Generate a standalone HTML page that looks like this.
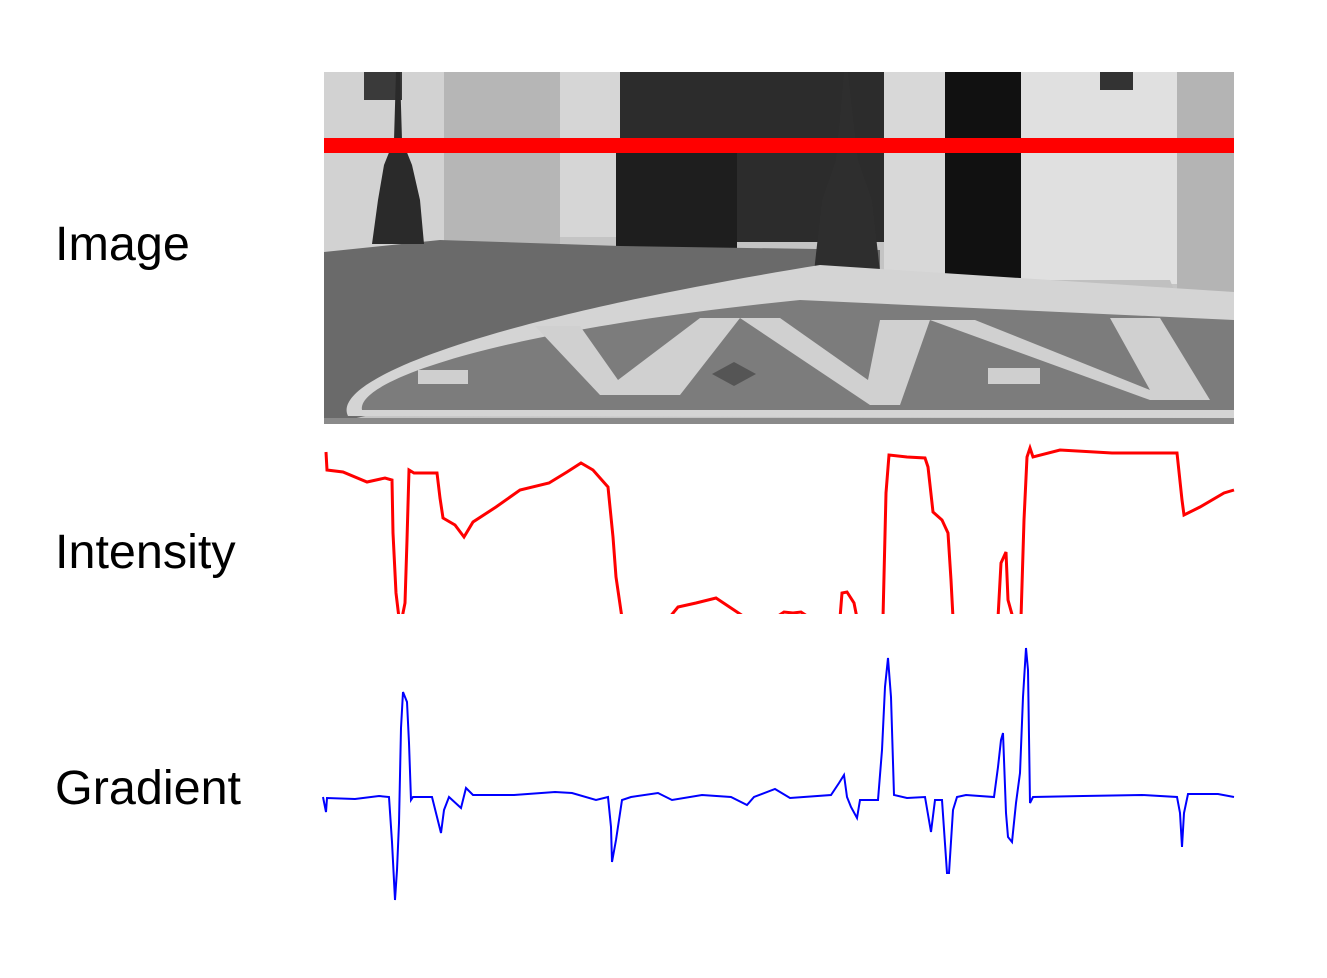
<!DOCTYPE html>
<html><head><meta charset="utf-8"><style>
body{margin:0;background:#fff;width:1327px;height:978px;overflow:hidden;font-family:"Liberation Sans",Arial,sans-serif}
.lbl{position:absolute;left:55px;font-size:48.5px;color:#000}
svg{position:absolute;left:0;top:0}
</style></head><body>
<div class="lbl" style="top:216px">Image</div>
<div class="lbl" style="top:524px">Intensity</div>
<div class="lbl" style="top:760px">Gradient</div>
<svg width="1327" height="978" id="s">
<defs><clipPath id="pc"><rect x="324" y="72" width="910" height="352"/></clipPath>
<clipPath id="ic"><rect x="320" y="440" width="920" height="174"/></clipPath></defs>
<g clip-path="url(#pc)">
<rect x="324" y="72" width="910" height="352" fill="#c4c4c4"/>
<rect x="324" y="72" width="120" height="180" fill="#d2d2d2"/>
<rect x="444" y="72" width="116" height="175" fill="#b6b6b6"/>
<rect x="364" y="72" width="38" height="28" fill="#3a3a3a"/>
<rect x="560" y="72" width="60" height="165" fill="#d6d6d6"/>
<rect x="620" y="72" width="264" height="170" fill="#2c2c2c"/>
<rect x="616" y="150" width="121" height="100" fill="#1e1e1e"/>
<rect x="884" y="72" width="61" height="220" fill="#d8d8d8"/>
<rect x="945" y="72" width="76" height="206" fill="#111"/>
<rect x="1021" y="72" width="156" height="212" fill="#e0e0e0"/>
<rect x="1177" y="72" width="57" height="220" fill="#b4b4b4"/>
<rect x="1100" y="72" width="33" height="18" fill="#333"/>
<polygon points="324,252 440,240 620,246 880,250 880,300 330,424 324,424" fill="#6a6a6a"/>
<polygon points="372,244 424,244 420,200 412,165 402,140 400,72 396,72 394,140 384,165 378,200" fill="#2a2a2a"/>
<polygon points="814,272 880,272 872,200 858,160 848,72 844,72 836,160 822,200" fill="#2e2e2e"/>
<polygon points="880,280 1170,280 1178,300 900,308" fill="#c0c0c0"/>
<path d="M348,416 C330,380 480,320 820,265 L1234,292 L1234,418 Z" fill="#d4d4d4"/>
<path d="M362,410 C356,380 500,330 800,300 L1234,320 L1234,410 Z" fill="#7c7c7c"/>
<polygon points="535,326 580,326 618,380 700,318 740,318 680,395 600,395" fill="#d0d0d0"/>
<polygon points="740,318 780,318 868,380 880,320 930,320 900,405 870,405" fill="#d0d0d0"/>
<polygon points="930,320 975,320 1150,390 1110,318 1160,318 1210,400 1150,400" fill="#d0d0d0"/>
<rect x="418" y="370" width="50" height="14" fill="#cfcfcf"/>
<rect x="988" y="368" width="52" height="16" fill="#cfcfcf"/>
<polygon points="734,362 756,374 734,386 712,374" fill="#555"/>
<rect x="324" y="418" width="910" height="6" fill="#8a8a8a"/>
<rect x="324" y="138" width="910" height="15" fill="#ff0000"/>
</g>
<g clip-path="url(#ic)"><path id="ip" fill="none" stroke="#ff0000" stroke-width="3"/></g>
<path id="gp" fill="none" stroke="#0000ff" stroke-width="2"/>
</svg>
<script>
// intensity: column positions along the scanline (px) and brightness values (null = break in line)
const intensityCols=[2,3,19,43,61,68,69,72,75,78,81,83,85,90,113,116,119,131,140,149,172,196,225,243,257,269,284,289,292,298,null,
345,354,372,392,407,422,null,
451,460,469,477,486,null,
516,518,523,530,533,null,
559,562,565,583,601,604,609,618,624,627,629,null,
674,677,682,684,689,null,
697,700,703,706,709,736,788,853,858,860,876,900,910];
const intensityVals=[161,143,141,131,135,133,80,20,-5,-5,10,73,143,140,140,115,95,88,76,91,106,123,130,141,150,143,126,76,36,-5,null,
-5,6,10,15,5,-5,null,
-5,1,0,1,-5,null,
-5,20,21,10,-5,null,
-5,120,158,156,155,146,101,93,80,33,-5,null,
-5,50,61,13,-5,null,
-5,93,156,165,156,163,160,160,113,98,106,120,123];
// gradient: column positions and gradient values (up positive)
const gradCols=[-1,2,3,31,55,65,68,71,73,75,77,79,83,85,87,89,108,113,117,120,125,137,142,149,190,231,248,272,284,287,288,292,298,307,334,348,378,407,423,430,451,466,507,515,520,523,527,533,536,554,558,561,564,567,570,583,601,607,611,618,623,625,629,633,642,670,674,677,679,682,684,688,692,696,699,702,704,706,709,759,818,853,856,858,860,864,894,910];
const gradVals=[0,-15,-1,-2,1,0,-45,-103,-73,-26,69,105,95,54,-3,0,0,-20,-36,-13,0,-11,9,2,2,5,4,-3,0,-30,-65,-43,-3,0,4,-3,2,0,-8,0,8,-1,2,14,22,0,-10,-21,-3,-3,47,110,139,100,2,-1,0,-35,-3,-3,-76,-76,-13,0,2,0,30,57,64,-16,-40,-45,-6,24,100,149,127,-6,0,1,2,0,-16,-50,-16,3,3,0];
const X=c=>324+c, YI=v=>613-v, YG=v=>797-v;
function path(cols,vals,yf){let d='',pen=false;for(let i=0;i<cols.length;i++){if(vals[i]===null||cols[i]===null){pen=false;continue;}d+=(pen?'L':'M')+X(cols[i])+','+yf(vals[i])+' ';pen=true;}return d;}
document.getElementById('ip').setAttribute('d',path(intensityCols,intensityVals,YI));
document.getElementById('gp').setAttribute('d',path(gradCols,gradVals,YG));
</script>
</body></html>
